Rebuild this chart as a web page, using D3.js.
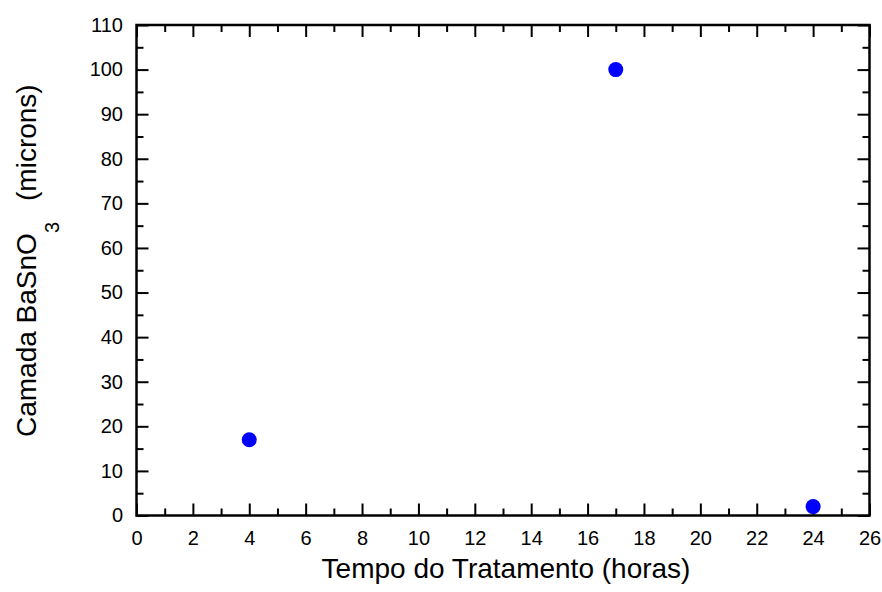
<!DOCTYPE html>
<html>
<head>
<meta charset="utf-8">
<script src="https://cdn.jsdelivr.net/npm/d3@7"></script>
<style>
  body { margin: 0; background: #fff; }
  text { font-family: "Liberation Sans", Arial, sans-serif; fill: #000; }
</style>
</head>
<body>
<div class="canvas"></div>
<script>
// data
const hours = [4, 17, 24];
const layer = [17, 100, 2];
const xTicks = d3.range(0, 27, 2);
const yTicks = d3.range(0, 111, 10);

const svg = d3.select('.canvas')
  .append('svg')
    .attr('width', 882)
    .attr('height', 592);

// plot frame
const margin = {top: 25, right: 12.5, bottom: 76.5, left: 136.5};
const graphWidth = 882 - margin.left - margin.right;
const graphHeight = 592 - margin.top - margin.bottom;

const graph = svg.append('g')
  .attr('transform', `translate(${margin.left}, ${margin.top})`);

const x = d3.scaleLinear().domain([0, 26]).range([0, graphWidth]);
const y = d3.scaleLinear().domain([0, 110]).range([graphHeight, 0]);

// axes with inward ticks
const styleAxis = g => {
  g.select('.domain').remove();
  g.selectAll('line').attr('stroke', '#000').attr('stroke-width', 2);
};

const xMinor = d3.range(1, 26, 2);
const yMinor = d3.range(5, 110, 10);

// bottom
graph.append('g')
  .attr('transform', `translate(0, ${graphHeight})`)
  .call(d3.axisBottom(x).tickValues(xTicks).tickSize(-12).tickPadding(15).tickFormat(d3.format('d')))
  .call(styleAxis)
  .call(g => g.selectAll('text').attr('font-size', 20));
graph.append('g')
  .attr('transform', `translate(0, ${graphHeight})`)
  .call(d3.axisBottom(x).tickValues(xMinor).tickSize(-7).tickFormat(''))
  .call(styleAxis);
// top
graph.append('g')
  .call(d3.axisTop(x).tickValues(xTicks).tickSize(-12).tickFormat(''))
  .call(styleAxis);
graph.append('g')
  .call(d3.axisTop(x).tickValues(xMinor).tickSize(-7).tickFormat(''))
  .call(styleAxis);
// left
graph.append('g')
  .call(d3.axisLeft(y).tickValues(yTicks).tickSize(-12).tickPadding(13.5).tickFormat(d3.format('d')))
  .call(styleAxis)
  .call(g => g.selectAll('text').attr('font-size', 20));
graph.append('g')
  .call(d3.axisLeft(y).tickValues(yMinor).tickSize(-7).tickFormat(''))
  .call(styleAxis);
// right
graph.append('g')
  .attr('transform', `translate(${graphWidth}, 0)`)
  .call(d3.axisRight(y).tickValues(yTicks).tickSize(-12).tickFormat(''))
  .call(styleAxis);
graph.append('g')
  .attr('transform', `translate(${graphWidth}, 0)`)
  .call(d3.axisRight(y).tickValues(yMinor).tickSize(-7).tickFormat(''))
  .call(styleAxis);

graph.append('rect')
  .attr('width', graphWidth)
  .attr('height', graphHeight)
  .attr('fill', 'none')
  .attr('stroke', '#000')
  .attr('stroke-width', 2.5);

// points
graph.selectAll('circle')
  .data(hours.map((h, i) => ({h, v: layer[i]})))
  .enter()
  .append('circle')
    .attr('cx', d => x(d.h))
    .attr('cy', d => y(d.v))
    .attr('r', 7.5)
    .attr('fill', '#0000ff');

// x label
svg.append('text')
  .attr('text-anchor', 'middle')
  .attr('x', 506)
  .attr('y', 578)
  .attr('font-size', 28)
  .text('Tempo do Tratamento (horas)');

// y label
const yl = svg.append('text')
  .attr('text-anchor', 'start')
  .attr('transform', 'translate(35.5, 437) rotate(-90)')
  .attr('font-size', 28);
yl.append('tspan').text('Camada BaSnO');
yl.append('tspan').attr('dx', 0).attr('dy', 23).attr('font-size', 20).text('3');
yl.append('tspan').attr('dx', 21).attr('dy', -23).text('(microns)');
</script>
</body>
</html>
